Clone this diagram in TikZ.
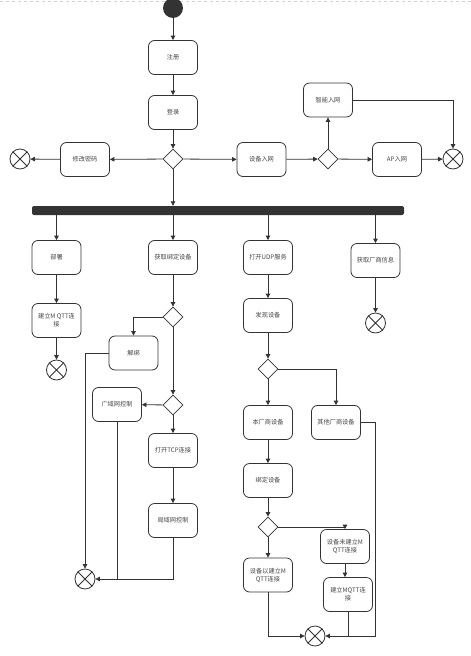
\documentclass[tikz,border=0pt]{standalone}
\usepackage{fontspec}
\newfontfamily\cjk{Noto Sans CJK SC}
\usetikzlibrary{arrows.meta,shapes.geometric,calc}
\definecolor{ln}{HTML}{333333}
\definecolor{tx}{HTML}{444444}
\tikzset{
  act/.style={draw=ln,line width=0.8pt,rounded corners=6pt,minimum width=49pt,minimum height=34pt,
    align=center,font=\cjk\fontsize{6.2}{8}\selectfont,text=tx,inner sep=1pt},
  dec/.style={draw=ln,line width=0.8pt,diamond,minimum size=20pt,inner sep=0pt},
  fin/.style={draw=ln,line width=0.8pt,circle,minimum size=20pt,inner sep=0pt},
  arr/.style={draw=ln,line width=0.8pt,-{Triangle[length=4.5pt,width=4.5pt]}},
  plain/.style={draw=ln,line width=0.8pt},
}
\newcommand{\finx}[1]{\draw[ln,line width=0.8pt] (#1.45) -- (#1.225) (#1.135) -- (#1.315);}
\begin{document}
\begin{tikzpicture}[x=1pt,y=-1pt]
\useasboundingbox (0,0) rectangle (471,656);
\draw[dashed,gray!35,line width=0.5pt] (0,1) -- (471,1);
% start
\node[circle,fill=ln,minimum size=20pt,inner sep=0pt] (start) at (173,8) {};
\node[act] (reg) at (173,57.5) {注册};
\node[act] (login) at (173,112.5) {登录};
\node[dec] (d1) at (173,159) {};
\node[act] (pwd) at (85,159.5) {修改密码};
\node[fin] (e1) at (20,159) {};
\node[act] (dev) at (261.5,159.5) {设备入网};
\node[dec] (d2) at (328,159) {};
\node[act] (smart) at (328,100) {智能入网};
\node[act] (ap) at (397,159.5) {AP入网};
\node[fin] (e2) at (453,159) {};
% bar
\node[fill=ln,rounded corners=2pt,minimum width=372pt,minimum height=9pt,inner sep=0pt] (bar) at (218,210.5) {};
% left column
\node[act] (dep) at (56.5,257.5) {部署};
\node[act] (mq1) at (56.5,320.5) {建立M QTT连\\接};
\node[fin] (e3) at (56.5,370) {};
% second column
\node[act] (getb) at (173,257.5) {获取绑定设备};
\node[dec] (d3) at (173,317) {};
\node[act] (unb) at (133.5,353) {解绑};
\node[dec] (d4) at (173,405) {};
\node[act] (wan) at (117,404.5) {广域网控制};
\node[act] (tcp) at (173,450.5) {打开TCP连接};
\node[act] (lan) at (173,520.5) {局域网控制};
\node[fin] (e4) at (85,579) {};
% third column
\node[act] (udp) at (268,257.5) {打开UDP服务};
\node[act] (disc) at (268,315.5) {发现设备};
\node[dec] (d5) at (268,369) {};
\node[act] (local) at (268,422.5) {本厂商设备};
\node[act] (other) at (336,422.5) {其他厂商设备};
\node[act] (bind) at (268,480.5) {绑定设备};
\node[dec] (d6) at (268,527) {};
\node[act] (nomq) at (345,546.5) {设备未建立M\\QTT连接};
\node[act] (hasmq) at (268,575) {设备以建立M\\QTT连接};
\node[act] (mq2) at (348,594.5) {建立MQTT连\\接};
\node[fin] (e6) at (315,636) {};
% fourth column
\node[act] (vend) at (375.5,260.5) {获取厂商信息};
\node[fin] (e5) at (375.5,323) {};
\finx{e1}\finx{e2}\finx{e3}\finx{e4}\finx{e5}\finx{e6}
% edges top
\draw[arr] (start) -- (reg);
\draw[arr] (reg) -- (login);
\draw[arr] (login) -- (d1);
\draw[arr] (d1) -- (pwd);
\draw[arr] (pwd) -- (e1);
\draw[arr] (d1) -- (dev);
\draw[arr] (dev) -- (d2);
\draw[arr] (d2) -- (smart);
\draw[arr] (d2) -- (ap);
\draw[arr] (ap) -- (e2);
\draw[arr] (smart.east) -| (e2.north);
\draw[arr] (d1) -- (d1 |- bar.north);
% from bar
\draw[arr] (dep.north |- bar.south) -- (dep);
\draw[arr] (getb.north |- bar.south) -- (getb);
\draw[arr] (udp.north |- bar.south) -- (udp);
\draw[arr] (vend.north |- bar.south) -- (vend);
% left column
\draw[arr] (dep) -- (mq1);
\draw[arr] (mq1) -- (e3);
% second column
\draw[arr] (getb) -- (d3);
\draw[arr] (d3.west) -| (unb.north);
\draw[arr] (d3) -- (d4);
\draw[arr] (d4) -- (wan);
\draw[arr] (d4) -- (tcp);
\draw[arr] (tcp) -- (lan);
\draw[arr] (unb.west) -| (e4.north);
\draw[arr] (lan.south) |- (e4.east);
\draw[plain] (wan.south) -- (wan.south |- e4.east);
% third column
\draw[arr] (udp) -- (disc);
\draw[arr] (disc) -- (d5);
\draw[arr] (d5) -- (local);
\draw[arr] (d5.east) -| (other.north);
\draw[arr] (local) -- (bind);
\draw[arr] (bind) -- (d6);
\draw[arr] (d6) -- (hasmq);
\draw[arr] (d6.east) -| (nomq.north);
\draw[arr] (nomq) -- (nomq.south |- mq2.north);
\draw[arr] (hasmq.south) |- (e6.west);
\draw[arr] (other.east) -- (other.east -| vend.south) |- (e6.east);
\draw[plain] (mq2.south) -- (mq2.south |- e6.east);
% fourth column
\draw[arr] (vend) -- (e5);
\end{tikzpicture}
\end{document}
